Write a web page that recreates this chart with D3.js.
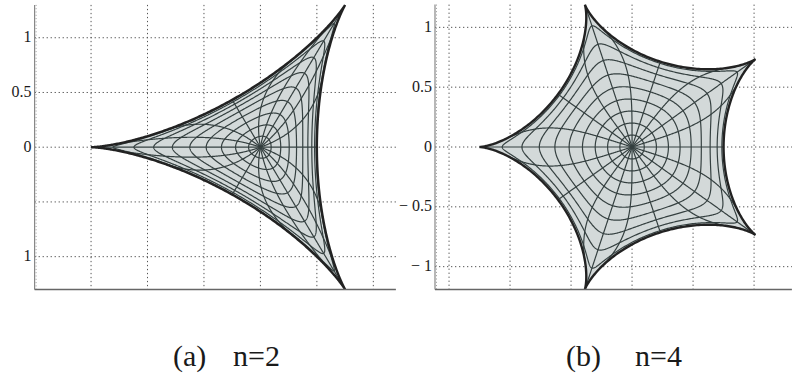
<!DOCTYPE html>
<html>
<head>
<meta charset="utf-8">
<script src="https://cdn.jsdelivr.net/npm/d3@7/dist/d3.min.js"></script>
<style>
  body { margin: 0; }
  #wrap { position: relative; width: 792px; height: 380px; }
  #wrap svg { position: absolute; left: 0; top: 0; }
  .lbl { position: absolute; white-space: pre; font-family: "Liberation Serif"; color: #1a1a1a; line-height: 1; }
</style>
</head>
<body>
<div id="wrap"><svg id="chart" width="792" height="380"></svg></div>
<script>
// Harmonic map f(z) = z - conj(z)^n / n of the unit disk, drawn for two n.
const panelNames = ["(a)", "(b)"];
const panelLabels = ["n=2", "n=4"];
const nValues = [2, 4];

// Circles |z| = r that are mapped (the last one is the boundary).
const radii = [0.1, 0.2, 0.3, 0.4, 0.5, 0.6, 0.7, 0.8, 0.9, 1.0];

// Rays arg z = angle (degrees) that are mapped, per panel.
const rayAnglesA = [0, 20, 40, 60, 80, 100, 120, 140, 160, 180, 200, 220, 240, 260, 280, 300, 320, 340];
const rayAnglesB = [0, 18, 36, 54, 72, 90, 108, 126, 144, 162, 180, 198, 216, 234, 252, 270, 288, 306, 324, 342];
const rayAngles = [rayAnglesA, rayAnglesB];

// Grid and tick values
const xGridValues = [-1.5, -1, -0.5, 0, 0.5, 1];
const yTickValues = [1, 0.5, 0, -0.5, -1];
const yTickLabelsA = ["1", "0.5", "0", "", "1"];
const yTickLabelsB = ["1", "0.5", "0", "\u2212 0.5", "\u2212 1"];
const yTickLabels = [yTickLabelsA, yTickLabelsB];

// Plot frames (domains in data units, ranges in pixels)
const frames = [
  { xDomain: [-2, 1.2], xRange: [34.6, 395.9], yDomain: [-1.3, 1.3], yRange: [289.5, 4.9], captionX: [173, 233] },
  { xDomain: [-1.615, 1.31], xRange: [435, 791.9], yDomain: [-1.19, 1.19], yRange: [289.4, 4.6], captionX: [566, 635] }
];

const svg = d3.select("#chart");
const wrap = d3.select("#wrap");

function mapPoint(r, t, n) {
  // z = r e^{it};  f = z - conj(z)^n / n
  const rn = Math.pow(r, n);
  return [r * Math.cos(t) - rn * Math.cos(n * t) / n,
          r * Math.sin(t) + rn * Math.sin(n * t) / n];
}

frames.forEach((fr, i) => {
  const n = nValues[i];
  const x = d3.scaleLinear().domain(fr.xDomain).range(fr.xRange);
  const y = d3.scaleLinear().domain(fr.yDomain).range(fr.yRange);
  const g = svg.append("g");
  const line = d3.line().x(d => x(d[0])).y(d => y(d[1])).curve(d3.curveLinear);

  const x0 = fr.xRange[0], x1 = fr.xRange[1];
  const yTop = fr.yRange[1], yBot = fr.yRange[0];

  // dotted grid
  g.append("g").selectAll("line").data(xGridValues).join("line")
    .attr("x1", d => x(d)).attr("x2", d => x(d))
    .attr("y1", yTop).attr("y2", yBot)
    .attr("stroke", "#555").attr("stroke-width", 1)
    .attr("stroke-dasharray", "1.3,2.7");
  g.append("g").selectAll("line").data(yTickValues).join("line")
    .attr("x1", x0).attr("x2", x1)
    .attr("y1", d => y(d)).attr("y2", d => y(d))
    .attr("stroke", "#555").attr("stroke-width", 1)
    .attr("stroke-dasharray", "1.3,2.7");

  // filled region (image of the closed disk)
  const thetaSamples = d3.range(0, 721).map(k => k / 720 * 2 * Math.PI);
  const boundary = thetaSamples.map(t => mapPoint(1, t, n));
  g.append("path").attr("d", line(boundary) + "Z")
    .attr("fill", "#d3d9d9").attr("stroke", "none");

  // images of circles
  g.append("g").selectAll("path").data(radii.slice(0, -1)).join("path")
    .attr("d", r => line(thetaSamples.map(t => mapPoint(r, t, n))))
    .attr("fill", "none").attr("stroke", "#354040").attr("stroke-width", 1.2);

  // images of rays
  const rSamples = d3.range(0, 201).map(k => k / 200);
  g.append("g").selectAll("path").data(rayAngles[i]).join("path")
    .attr("d", a => line(rSamples.map(r => mapPoint(r, a * Math.PI / 180, n))))
    .attr("fill", "none").attr("stroke", "#354040").attr("stroke-width", 1.2);

  // boundary curve
  g.append("path").attr("d", line(boundary) + "Z")
    .attr("fill", "none").attr("stroke", "#222").attr("stroke-width", 2.4)
    .attr("stroke-linejoin", "miter").attr("stroke-miterlimit", 30);

  // axes: left and bottom frame lines
  g.append("line").attr("x1", x0).attr("x2", x0).attr("y1", yTop).attr("y2", yBot)
    .attr("stroke", "#888").attr("stroke-width", 1.2);
  g.append("line").attr("x1", x0 + 1.5).attr("x2", x0 + 1.5).attr("y1", yTop).attr("y2", yBot)
    .attr("stroke", "#999").attr("stroke-width", 1).attr("stroke-dasharray", "1,2.3");
  g.append("line").attr("x1", x0).attr("x2", x1).attr("y1", yBot).attr("y2", yBot)
    .attr("stroke", "#666").attr("stroke-width", 1.5);

  // y tick labels: right-aligned boxes ending just left of the axis
  wrap.selectAll(null).data(yTickValues).join("div")
    .attr("class", "lbl")
    .style("font-size", "16px")
    .style("right", (792 - (x0 - 3)) + "px")
    .style("top", d => (y(d) - 8.5) + "px")
    .style("text-align", "right")
    .text((d, k) => yTickLabels[i][k]);

  // caption
  [[panelNames[i], fr.captionX[0]], [panelLabels[i], fr.captionX[1]]].forEach(([t, cx]) => {
    wrap.append("div").attr("class", "lbl")
      .style("font-size", "30px")
      .style("left", cx + "px")
      .style("top", "341px")
      .text(t);
  });
});
</script>
</body>
</html>
